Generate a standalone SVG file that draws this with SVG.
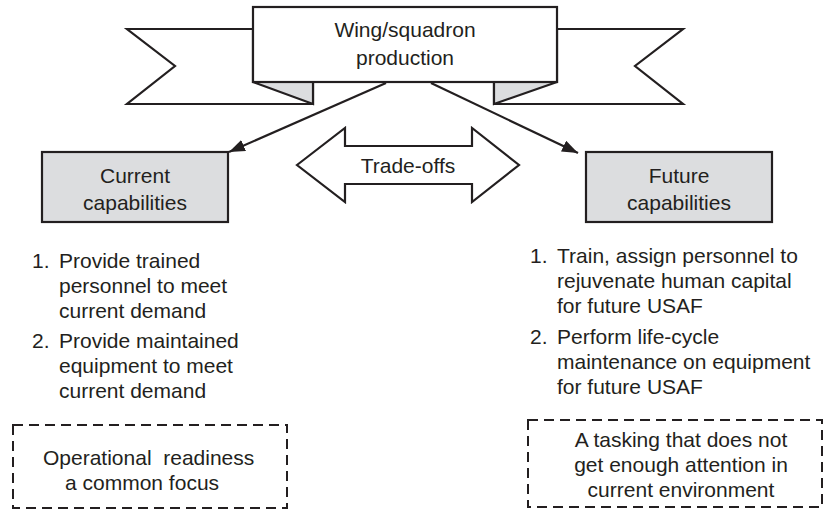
<svg xmlns="http://www.w3.org/2000/svg" width="824" height="512" viewBox="0 0 824 512">
<style>
.ln{fill:none;stroke:#231f20;stroke-width:2.2;stroke-linejoin:miter}
.wf{fill:#ffffff;stroke:#231f20;stroke-width:2.2;stroke-linejoin:miter}
.gf{fill:#dcdddf;stroke:#231f20;stroke-width:2.2;stroke-linejoin:miter}
.db{fill:none;stroke:#231f20;stroke-width:2;stroke-dasharray:10 6}
.t{font-family:"Liberation Sans",Arial,Helvetica,sans-serif;font-size:21px;fill:#231f20}
.c{text-anchor:middle}
</style>
<defs>
<marker id="ah" viewBox="0 0 16 12" refX="16" refY="6" markerWidth="16" markerHeight="12" markerUnits="userSpaceOnUse" orient="auto">
<path d="M0,0 L16,6 L0,12 z" fill="#231f20"/>
</marker>
</defs>
<rect width="824" height="512" fill="#ffffff"/>

<g id="banner">
<polygon class="wf" points="253,29 127,29 175,66 127,104 313,104 313,82 253,82"/>
<polygon class="gf" points="253,82 313,82 313,104"/>
<polygon class="wf" points="557,29 683,29 635,66 683,104 494,104 494,82 557,82"/>
<polygon class="gf" points="494,82 557,82 494,104"/>
<rect class="wf" x="253" y="7" width="304" height="75"/>
<text class="t c" x="405" y="37">Wing/squadron</text>
<text class="t c" x="405" y="65">production</text>
</g>

<g id="connectors">
<line class="ln" x1="386" y1="83" x2="229" y2="152" marker-end="url(#ah)"/>
<line class="ln" x1="431" y1="83" x2="578" y2="153" marker-end="url(#ah)"/>
</g>

<g id="tradeoffs">
<polygon class="wf" points="297,165 345,128 345,146 472,146 472,128 519,165 472,202 472,184 345,184 345,202"/>
<text class="t c" x="408" y="173">Trade-offs</text>
</g>

<g id="current">
<rect class="gf" x="42" y="152" width="186" height="70"/>
<text class="t c" x="135" y="183">Current</text>
<text class="t c" x="135" y="210">capabilities</text>
</g>

<g id="future">
<rect class="gf" x="586" y="152" width="186" height="70"/>
<text class="t c" x="679" y="183">Future</text>
<text class="t c" x="679" y="210">capabilities</text>
</g>

<g id="current-list">
<text class="t" x="32" y="268">1.</text>
<text class="t" x="59" y="268">Provide trained</text>
<text class="t" x="59" y="293">personnel to meet</text>
<text class="t" x="59" y="318">current demand</text>
<text class="t" x="32" y="348">2.</text>
<text class="t" x="59" y="348">Provide maintained</text>
<text class="t" x="59" y="373">equipment to meet</text>
<text class="t" x="59" y="398">current demand</text>
</g>

<g id="future-list">
<text class="t" x="530" y="263">1.</text>
<text class="t" x="557" y="263">Train, assign personnel to</text>
<text class="t" x="557" y="288">rejuvenate human capital</text>
<text class="t" x="557" y="313">for future USAF</text>
<text class="t" x="530" y="344">2.</text>
<text class="t" x="557" y="344">Perform life-cycle</text>
<text class="t" x="557" y="369">maintenance on equipment</text>
<text class="t" x="557" y="394">for future USAF</text>
</g>

<g id="readiness">
<rect class="db" x="13" y="425" width="274" height="83"/>
<text class="t" x="43" y="465" xml:space="preserve">Operational  readiness</text>
<text class="t" x="65" y="490">a common focus</text>
</g>

<g id="tasking">
<rect class="db" x="528" y="420" width="294" height="87"/>
<text class="t c" x="681" y="447">A tasking that does not</text>
<text class="t c" x="681" y="472">get enough attention in</text>
<text class="t c" x="681" y="497">current environment</text>
</g>
</svg>
